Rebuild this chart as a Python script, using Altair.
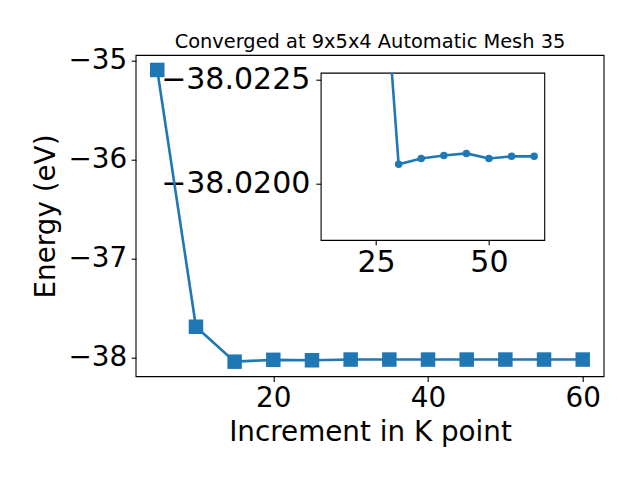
import altair as alt
import pandas as pd

# ---------------- data ----------------
k_points = [5, 10, 15, 20, 25, 30, 35, 40, 45, 50, 55, 60]
energy = [-35.093, -37.689, -38.042, -38.0235, -38.0278, -38.02047, -38.02061,
          -38.02068, -38.02073, -38.02061, -38.02066, -38.02066]
inset_from_k = 15

main_x_ticks = [20, 40, 60]
main_y_ticks = [-38, -37, -36, -35]
inset_x_ticks = [25, 50]
inset_y_ticks = [-38.0225, -38.0200]

title_text = "Converged at 9x5x4 Automatic Mesh 35"
x_title = "Increment in K point"
y_title = "Energy (eV)"

df = pd.DataFrame({"k": k_points, "E": energy})

# ---------------- layout (page pixels) ----------------
MAIN_L, MAIN_R, MAIN_T, MAIN_B = 136.0, 604.0, 55.4, 376.6
INS_L, INS_R, INS_T, INS_B = 320.7, 544.3, 72.7, 240.0
W = INS_R - INS_L
H = INS_B - INS_T

main_xdom = [2.25, 62.75]
main_ydom = [-38.193, -34.946]
inset_xdom = [12.75, 62.25]
inset_ydom = [-38.02266, -38.01866]

BLUE = "#1f77b4"
FONT = "DejaVu Sans"
LW = 2.6


def main_x_scale():
    return alt.Scale(domain=main_xdom, range=[MAIN_L - INS_L, MAIN_R - INS_L],
                     nice=False, zero=False)


def main_y_scale():
    return alt.Scale(domain=main_ydom, range=[MAIN_B - INS_T, MAIN_T - INS_T],
                     nice=False, zero=False)


def inset_x_scale():
    return alt.Scale(domain=inset_xdom, nice=False, zero=False)


def inset_y_scale():
    return alt.Scale(domain=inset_ydom, nice=False, zero=False, reverse=True)


main_x_axis = alt.Axis(orient="bottom", offset=MAIN_B - INS_B, values=main_x_ticks,
                       format="d", title=x_title, grid=False, domain=False,
                       tickSize=4.86, tickWidth=1.1, tickColor="black",
                       labelFont=FONT, labelFontSize=27.8, labelColor="black",
                       labelPadding=3, labelFlush=False, labelOverlap=False,
                       titleFont=FONT, titleFontSize=27.8, titleFontWeight="normal",
                       titleColor="black", titlePadding=6)
main_y_axis = alt.Axis(orient="left", offset=INS_L - MAIN_L, values=main_y_ticks,
                       format="d", title=y_title, grid=False, domain=False,
                       tickSize=4.86, tickWidth=1.1, tickColor="black",
                       labelFont=FONT, labelFontSize=27.8, labelColor="black",
                       labelPadding=4.5, labelFlush=False, labelOverlap=False,
                       titleFont=FONT, titleFontSize=27.8, titleFontWeight="normal",
                       titleColor="black", titlePadding=7)
inset_x_axis = alt.Axis(orient="bottom", values=inset_x_ticks, format="d", title=None,
                        grid=False, domain=False, tickSize=4.86, tickWidth=1.1,
                        tickColor="black", labelFont=FONT, labelFontSize=30,
                        labelColor="black", labelPadding=3, labelFlush=False,
                        labelOverlap=False)
inset_y_axis = alt.Axis(orient="left", values=inset_y_ticks, format=".4f", title=None,
                        grid=False, domain=False, tickSize=4.86, tickWidth=1.1,
                        tickColor="black", labelFont=FONT, labelFontSize=30,
                        labelColor="black", labelPadding=6, labelFlush=False,
                        labelOverlap=False)

# ---------------- main plot ----------------
frame_df = pd.DataFrame({"x0": [main_xdom[0]], "x1": [main_xdom[1]],
                         "y0": [main_ydom[0]], "y1": [main_ydom[1]]})
main_frame = alt.Chart(frame_df).mark_rect(fill=None, stroke="black", strokeWidth=1.1).encode(
    x=alt.X("x0:Q", scale=main_x_scale(), axis=None),
    x2="x1:Q",
    y=alt.Y("y0:Q", scale=main_y_scale(), axis=None),
    y2="y1:Q",
)
main_line = alt.Chart(df).mark_line(color=BLUE, strokeWidth=LW).encode(
    x=alt.X("k:Q", scale=main_x_scale(), axis=main_x_axis),
    y=alt.Y("E:Q", scale=main_y_scale(), axis=main_y_axis),
)
main_pts = alt.Chart(df).mark_square(color=BLUE, size=210, opacity=1).encode(
    x=alt.X("k:Q", scale=main_x_scale(), axis=None),
    y=alt.Y("E:Q", scale=main_y_scale(), axis=None),
)

# ---------------- inset ----------------
inset_line = alt.Chart(df).transform_filter(
    alt.datum.k >= inset_from_k
).mark_line(color=BLUE, strokeWidth=LW, clip=True).encode(
    x=alt.X("k:Q", scale=inset_x_scale(), axis=inset_x_axis),
    y=alt.Y("E:Q", scale=inset_y_scale(), axis=inset_y_axis),
)
inset_pts = alt.Chart(df).transform_filter(
    alt.datum.k >= inset_from_k
).mark_circle(color=BLUE, size=56, opacity=1, clip=True).encode(
    x=alt.X("k:Q", scale=inset_x_scale(), axis=None),
    y=alt.Y("E:Q", scale=inset_y_scale(), axis=None),
)

chart = alt.layer(main_frame, main_line, main_pts, inset_line, inset_pts).resolve_scale(
    x="independent", y="independent"
).resolve_axis(
    x="independent", y="independent"
).properties(
    width=W,
    height=H,
    title=alt.TitleParams(text=title_text, font=FONT, fontSize=19.4, fontWeight="normal",
                          color="black", anchor="middle", frame="group",
                          dx=(MAIN_L + MAIN_R) / 2 - (INS_L + INS_R) / 2, offset=-6),
    autosize=alt.AutoSizeParams(type="none"),
    padding={"left": INS_L - 8, "top": INS_T - 8,
             "right": 624 - (INS_L - 8) - W, "bottom": 464 - (INS_T - 8) - H},
).configure_view(stroke="black", strokeWidth=1.1)

chart.save("out.html", embed_options={"renderer": "svg", "actions": False})
